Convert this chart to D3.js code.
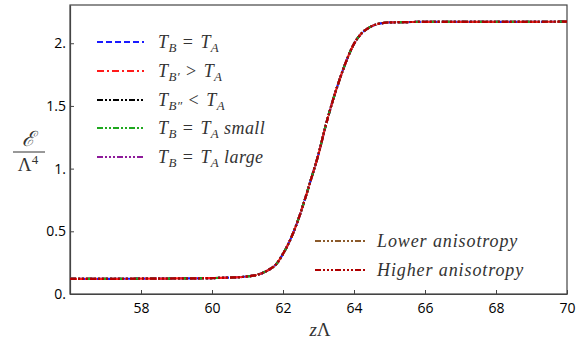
<html>
<head>
  <script src="https://d3js.org/d3.v7.min.js"></script>
  <style>
    body { margin: 0; background: #fff; }
    .tick text { font-family: "Open Sans", sans-serif; font-size: 14px; fill: #000; }
    .axis path, .axis line { stroke: #444; }
    .math { font-family: "Liberation Serif", serif; fill: #333; }
  </style>
</head>
<body>
  <svg id="chart" width="584" height="343"></svg>
  <script>
    // z values and energy density
    const zValues = [56, 57, 58, 59, 60, 60.5, 61, 61.3, 61.6, 61.8, 62, 62.2, 62.4, 62.6, 62.8,
      63, 63.2, 63.4, 63.6, 63.8, 64, 64.2, 64.4, 64.6, 64.8, 65, 65.5, 66, 67, 68, 69, 70];
    const energy = [0.120, 0.121, 0.122, 0.124, 0.127, 0.131, 0.140, 0.155, 0.193, 0.235, 0.320,
      0.430, 0.570, 0.740, 0.925, 1.115, 1.340, 1.540, 1.715, 1.870, 1.995, 2.075, 2.120, 2.148,
      2.161, 2.166, 2.169, 2.170, 2.170, 2.171, 2.171, 2.172];

    const seriesNames = ["TB=TA", "TB'>TA", "TB''<TA", "small", "large", "lower", "higher"];
    const seriesColors = ["#1a1aff", "#ff1a1a", "#000000", "#1fa81f", "#8e1a9a", "#8b5a2b", "#b00000"];
    const seriesDashes = ["6,3", "7,3,2,3", "6,2,2,2,2,2", "6,2,2,2,2,2", "6,2,2,2,2,2,2,2",
      "6,2,2,2,2,2,2,2", "6,2,2,2,2,2,2,2"];

    const xTicks = [58, 60, 62, 64, 66, 68, 70];
    const yTicks = [0, 0.5, 1, 1.5, 2];
    const yTickLabels = ["0.", "0.5", "1.", "1.5", "2."];

    const svg = d3.select("svg#chart");
    const margins = { top: 5, right: 17, bottom: 49, left: 70 };
    const chartWidth = 584 - margins.left - margins.right;
    const chartHeight = 343 - margins.top - margins.bottom;

    const xScale = d3.scaleLinear().domain([56, 70]).range([0, chartWidth]);
    const yScale = d3.scaleLinear().domain([0, 2.305]).range([chartHeight, 0]);

    const chart = svg.append("g")
      .attr("transform", `translate(${margins.left},${margins.top})`);

    // frame
    chart.append("rect")
      .attr("width", chartWidth).attr("height", chartHeight)
      .attr("fill", "none").attr("stroke", "#444").attr("stroke-width", 1.2);

    let bottomAxis = d3.axisBottom(xScale).tickValues(xTicks)
      .tickSizeInner(-4).tickSizeOuter(0).tickPadding(9).tickFormat(d => d);
    chart.append("g")
      .attr("class", "x axis")
      .attr("transform", `translate(0, ${chartHeight})`)
      .call(bottomAxis);

    let leftAxis = d3.axisLeft(yScale).tickValues(yTicks)
      .tickSizeInner(-4).tickSizeOuter(0).tickPadding(4)
      .tickFormat((d, i) => yTickLabels[i]);
    chart.append("g")
      .attr("class", "y axis")
      .call(leftAxis);

    chart.selectAll(".axis path").attr("stroke-width", 1.2);

    const line = d3.line()
      .x((d, i) => xScale(zValues[i]))
      .y(d => yScale(d))
      .curve(d3.curveMonotoneX);

    seriesNames.forEach((name, k) => {
      chart.append("path")
        .datum(energy)
        .attr("d", line)
        .attr("fill", "none")
        .attr("stroke", seriesColors[k])
        .attr("stroke-width", 2.2)
        .attr("stroke-dasharray", seriesDashes[k]);
    });

    // legends
    const legendTop = [
      [["T", ""], ["B", "sub"], [" = ", "op"], ["T", ""], ["A", "sub"]],
      [["T", ""], ["B\u2032", "sub"], [" > ", "op"], ["T", ""], ["A", "sub"]],
      [["T", ""], ["B\u2033", "sub"], [" < ", "op"], ["T", ""], ["A", "sub"]],
      [["T", ""], ["B", "sub"], [" = ", "op"], ["T", ""], ["A", "sub"], [" small", ""]],
      [["T", ""], ["B", "sub"], [" = ", "op"], ["T", ""], ["A", "sub"], [" large", ""]]
    ];
    const legendTopY = [42, 71, 100, 128, 157];
    const legendBottom = ["Lower anisotropy", "Higher anisotropy"];
    const legendBottomY = [241, 270];

    function addEntry(x, y, k, parts) {
      svg.append("line")
        .attr("x1", x).attr("x2", x + 47).attr("y1", y).attr("y2", y)
        .attr("stroke", seriesColors[k]).attr("stroke-width", 2)
        .attr("stroke-dasharray", seriesDashes[k]);
      const t = svg.append("text").attr("class", "math")
        .attr("x", x + 61).attr("y", y + 6).attr("font-size", 18);
      let prevSub = false;
      parts.forEach(p => {
        const span = t.append("tspan").text(p[0]).attr("xml:space", "preserve");
        const isSub = p[1] === "sub";
        if (isSub) {
          span.attr("font-size", 13).attr("font-style", "italic").attr("dy", prevSub ? 0 : 4);
        } else {
          if (p[1] !== "op") span.attr("font-style", "italic");
          span.attr("dy", prevSub ? -4 : 0);
          if (p[1] === "op") span.attr("letter-spacing", 1.5);
        }
        prevSub = isSub;
      });
      t.attr("letter-spacing", 0.4);
    }

    legendTop.forEach((parts, k) => addEntry(97, legendTopY[k], k, parts));
    legendBottom.forEach((label, k) => {
      svg.append("line")
        .attr("x1", 315).attr("x2", 365).attr("y1", legendBottomY[k]).attr("y2", legendBottomY[k])
        .attr("stroke", seriesColors[k + 5]).attr("stroke-width", 2)
        .attr("stroke-dasharray", seriesDashes[k + 5]);
      svg.append("text").attr("class", "math")
        .attr("x", 377).attr("y", legendBottomY[k] + 6)
        .attr("font-size", 18).attr("font-style", "italic")
        .attr("letter-spacing", 0.9)
        .text(label);
    });

    // axis labels
    svg.append("text").attr("class", "math")
      .attr("x", 28).attr("y", 146).attr("text-anchor", "middle")
      .attr("font-size", 21).attr("font-style", "italic")
      .attr("font-family", "DejaVu Serif")
      .text("\u2130");
    svg.append("line")
      .attr("x1", 13).attr("x2", 45).attr("y1", 152).attr("y2", 152)
      .attr("stroke", "#333").attr("stroke-width", 1);
    const lam = svg.append("text").attr("class", "math")
      .attr("x", 28).attr("y", 171).attr("text-anchor", "middle").attr("font-size", 19);
    lam.append("tspan").text("\u039B");
    lam.append("tspan").text("4").attr("font-size", 13).attr("dy", -7);

    const xl = svg.append("text").attr("class", "math")
      .attr("x", 320).attr("y", 336).attr("text-anchor", "middle").attr("font-size", 19);
    xl.append("tspan").text("z").attr("font-style", "italic");
    xl.append("tspan").text("\u039B");
  </script>
</body>
</html>
